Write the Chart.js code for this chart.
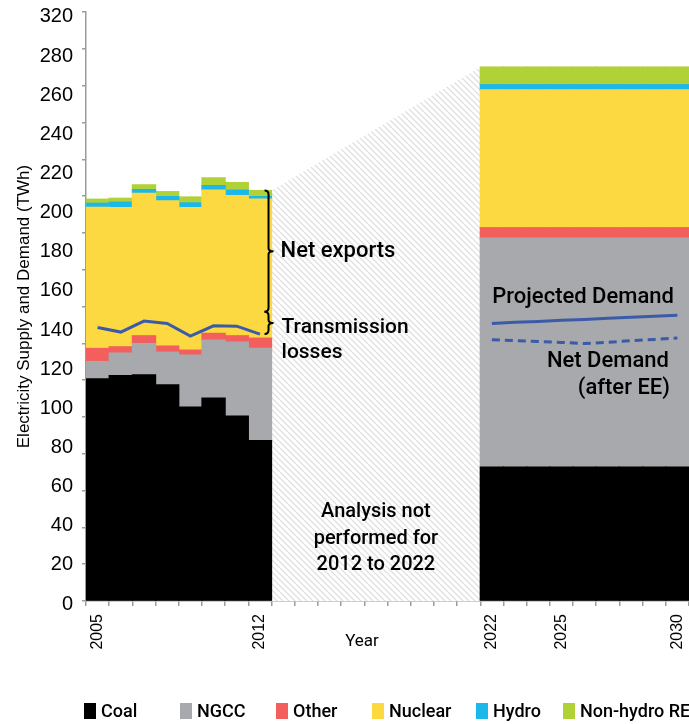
<!DOCTYPE html>
<html>
<head>
<meta charset="utf-8">
<title>Electricity Supply and Demand</title>
<script src="https://cdn.jsdelivr.net/npm/chart.js@4.4.1/dist/chart.umd.min.js"></script>
<style>
  html, body { margin: 0; padding: 0; background: #fff; }
  #wrap { width: 689px; height: 724px; }
</style>
</head>
<body>
<div id="wrap"><canvas id="supplyChart" width="689" height="724"></canvas></div>
<script>
// Electricity supply by source vs. demand, 2005-2012 and 2022-2030 (TWh)

const years = ['2005', '2006', '2007', '2008', '2009', '2010', '2011', '2012',
               '2013', '2014', '2015', '2016', '2017', '2018', '2019', '2020', '2021',
               '2022', '2023', '2024', '2025', '2026', '2027', '2028', '2029', '2030'];
const shownYears = ['2005', '2012', '2022', '2025', '2030'];
const yTickLabels = ['0', '20', '40', '60', '80', '100', '120', '140', '160',
                     '180', '200', '220', '240', '260', '280', '320'];

// historical supply, 2005-2012
const coalHist    = [120.7, 122.5, 122.9, 117.4, 105.4, 110.2, 100.5, 87.2];
const ngccHist    = [9.4, 12.2, 17.0, 17.8, 28.2, 31.5, 40.1, 50.0];
const otherHist   = [7.1, 3.4, 4.2, 3.3, 2.7, 3.7, 3.5, 5.6];
const nuclearHist = [76.7, 75.6, 77.4, 78.9, 77.4, 77.8, 76.1, 75.5];
const hydroHist   = [2.2, 3.0, 2.0, 2.3, 2.6, 2.5, 3.0, 1.4];
const reHist      = [2.2, 2.1, 2.6, 2.7, 3.2, 4.2, 4.1, 3.3];

// projected supply, 2022-2030
const coalProj    = [72.8, 72.8, 72.8, 72.8, 72.8, 72.8, 72.8, 72.8, 72.8];
const ngccProj    = [124.3, 124.3, 124.3, 124.3, 124.3, 124.3, 124.3, 124.3, 124.3];
const otherProj   = [5.7, 5.7, 5.7, 5.7, 5.7, 5.7, 5.7, 5.7, 5.7];
const nuclearProj = [74.9, 74.9, 74.9, 74.9, 74.9, 74.9, 74.9, 74.9, 74.9];
const hydroProj   = [2.8, 2.8, 2.8, 2.8, 2.8, 2.8, 2.8, 2.8, 2.8];
const reProj      = [9.6, 9.6, 9.6, 9.6, 9.6, 9.6, 9.6, 9.6, 9.6];

// demand
const demandHist    = [148.6, 146.1, 152.1, 150.8, 143.9, 149.5, 149.3, 145.0];
const demandProj    = [150.8, 151.4, 151.9, 152.5, 153.0, 153.6, 154.1, 154.7, 155.2];
const netDemandProj = [142.0, 141.5, 141.0, 140.5, 139.9, 140.6, 141.4, 142.1, 142.9];

// 2012 supply left after net exports (top of the transmission-loss bracket)
const afterExports2012 = 157.1;

const FONT_AXIS = '"Liberation Sans", Arial, sans-serif';
const FONT_NOTE = 'Roboto, "Liberation Sans", sans-serif';

const noYears = new Array(9).fill(null);
const span = (hist, proj) => hist.concat(noYears, proj);
const sum = arr => arr.reduce((a, b) => a + b, 0);

const last = a => a[a.length - 1];
const total2012 = sum([coalHist, ngccHist, otherHist, nuclearHist, hydroHist, reHist].map(last));
const total2022 = sum([coalProj, ngccProj, otherProj, nuclearProj, hydroProj, reProj].map(a => a[0]));

function hatchPattern() {
    const size = 6;
    const c = document.createElement('canvas');
    c.width = size; c.height = size;
    const g = c.getContext('2d');
    g.fillStyle = '#ffffff';
    g.fillRect(0, 0, size, size);
    g.strokeStyle = '#e0e0e0';
    g.lineWidth = 1.3;
    g.beginPath();
    g.moveTo(-1, -1); g.lineTo(size + 1, size + 1);
    g.moveTo(-size / 2 - 1, size / 2 - 1); g.lineTo(size / 2 + 1, size * 1.5 + 1);
    g.moveTo(size / 2 - 1, -size / 2 - 1); g.lineTo(size * 1.5 + 1, size / 2 + 1);
    g.stroke();
    return g.createPattern(c, 'repeat');
}

function bar(label, hist, proj, color) {
    return {
        type: 'bar', label, data: span(hist, proj),
        backgroundColor: color, borderWidth: 0, inflateAmount: 0.6,
        grouped: false, barPercentage: 1, categoryPercentage: 1,
        stack: 'supply', order: 2
    };
}

function curlyBrace(ctx, x, top, bottom) {
    const mid = (top + bottom) / 2;
    ctx.beginPath();
    ctx.moveTo(x - 4, top);
    ctx.quadraticCurveTo(x, top, x, top + 4);
    ctx.lineTo(x, mid - 3);
    ctx.quadraticCurveTo(x, mid, x + 5, mid);
    ctx.quadraticCurveTo(x, mid, x, mid + 3);
    ctx.lineTo(x, bottom - 4);
    ctx.quadraticCurveTo(x, bottom, x - 4, bottom);
    ctx.stroke();
}

// brackets and notes written over the plot
const notes = {
    id: 'notes',
    afterDatasetsDraw(chart) {
        const { ctx, chartArea, scales: { xh, y } } = chart;
        ctx.save();
        ctx.strokeStyle = '#000';
        ctx.lineWidth = 2;
        const bx = xh.getPixelForValue(2012.5) - 3;
        const yTop = y.getPixelForValue(total2012);
        const yMid = y.getPixelForValue(afterExports2012);
        const yDem = y.getPixelForValue(last(demandHist));
        curlyBrace(ctx, bx, yTop, yMid);
        curlyBrace(ctx, bx, yMid, yDem);

        ctx.fillStyle = '#000';
        ctx.textBaseline = 'middle';
        ctx.textAlign = 'left';
        ctx.font = '500 22px ' + FONT_NOTE;
        ctx.fillText('Net exports', bx + 12, (yTop + yMid) / 2);
        ctx.font = '500 21px ' + FONT_NOTE;
        ctx.fillText('Transmission', bx + 13, (yMid + yDem) / 2 + 5);
        ctx.fillText('losses', bx + 13, (yMid + yDem) / 2 + 30);

        ctx.font = '500 22px ' + FONT_NOTE;
        ctx.textAlign = 'right';
        const xr = xh.getPixelForValue(2029.85);
        ctx.fillText('Projected Demand', xr, y.getPixelForValue(last(demandProj)) - 18);
        const yNet = y.getPixelForValue(last(netDemandProj));
        ctx.fillText('Net Demand', xr - 5, yNet + 24);
        ctx.fillText('(after EE)', xr - 4, yNet + 51);

        ctx.textAlign = 'center';
        ctx.font = '500 20px ' + FONT_NOTE;
        const xc = xh.getPixelForValue(2017);
        ctx.fillText('Analysis not', xc, chartArea.bottom - 89);
        ctx.fillText('performed for', xc, chartArea.bottom - 62);
        ctx.fillText('2012 to 2022', xc, chartArea.bottom - 36);

        ctx.font = '17px ' + FONT_NOTE;
        ctx.fillText('Year', xh.getPixelForValue(2016.4), chartArea.bottom + 41);
        ctx.restore();
    }
};

// legend row along the bottom edge
const legendX = [84, 180, 276, 372, 476, 563];
const sourceLegend = {
    id: 'sourceLegend',
    afterDraw(chart) {
        const { ctx } = chart;
        const items = chart.data.datasets.filter(d => d.type === 'bar');
        ctx.save();
        ctx.font = '500 18px ' + FONT_NOTE;
        ctx.textBaseline = 'middle';
        ctx.textAlign = 'left';
        items.forEach((d, i) => {
            const x = legendX[i];
            const cy = 711;
            ctx.fillStyle = d.backgroundColor;
            ctx.fillRect(x, cy - 8, 12, 16);
            ctx.fillStyle = '#000';
            ctx.fillText(d.label, x + 17, cy + 1);
        });
        ctx.restore();
    }
};

const ctx = document.getElementById('supplyChart').getContext('2d');

new Chart(ctx, {
    type: 'bar',
    data: {
        labels: years,
        datasets: [
            {
                type: 'line', label: 'Projected Demand', data: span(demandHist, demandProj),
                borderColor: '#3b5ba9', borderWidth: 3, pointRadius: 0, tension: 0,
                spanGaps: false, fill: false, stack: 'demand', order: 0
            },
            {
                type: 'line', label: 'Net Demand (after EE)', data: span(new Array(8).fill(null), netDemandProj),
                borderColor: '#3b5ba9', borderWidth: 3, borderDash: [8, 5], pointRadius: 0, tension: 0,
                fill: false, stack: 'netDemand', order: 0
            },
            bar('Coal', coalHist, coalProj, '#000000'),
            bar('NGCC', ngccHist, ngccProj, '#a7a9ac'),
            bar('Other', otherHist, otherProj, '#f25f5c'),
            bar('Nuclear', nuclearHist, nuclearProj, '#fdd941'),
            bar('Hydro', hydroHist, hydroProj, '#1db8ea'),
            bar('Non-hydro RE', reHist, reProj, '#b1d236'),
            {
                type: 'line', label: 'not analysed', xAxisID: 'xh',
                data: [{ x: 2012.5, y: total2012 }, { x: 2021.5, y: total2022 }],
                borderWidth: 0, pointRadius: 0, tension: 0,
                fill: 'origin', backgroundColor: hatchPattern(),
                stack: 'gap', order: 3
            }
        ]
    },
    options: {
        responsive: false,
        animation: false,
        devicePixelRatio: 1,
        layout: { padding: { top: 12, right: 0, bottom: 63, left: 0 } },
        plugins: {
            legend: { display: false },
            tooltip: { enabled: false }
        },
        scales: {
            x: {
                type: 'category',
                stacked: true,
                offset: true,
                grid: { offset: true, drawOnChartArea: false, tickLength: 5, color: '#9b9b9b', lineWidth: 1.5 },
                border: { color: '#9b9b9b', width: 1.5 },
                ticks: {
                    autoSkip: false, maxRotation: 90, minRotation: 90, padding: 8,
                    color: '#000', font: { family: FONT_AXIS, size: 16 },
                    callback(value) {
                        const lab = this.getLabelForValue(value);
                        return shownYears.includes(lab) ? lab : '';
                    }
                },
                afterFit(scale) {
                    scale.height = 60;
                    scale.paddingLeft = 0;
                    scale.paddingRight = 0;
                }
            },
            // continuous year axis spanning the same width, used for the hatched gap
            xh: { type: 'linear', display: false, offset: false, min: 2004.5, max: 2030.5 },
            y: {
                position: 'left', weight: 0,
                stacked: true, min: 0, max: 320,
                ticks: { stepSize: 20, display: false },
                grid: { drawOnChartArea: false, tickLength: 4, color: '#9b9b9b', lineWidth: 1.5 },
                border: { color: '#9b9b9b', width: 1.5 },
                afterFit(scale) { scale.width = 5; }
            },
            yl: {
                position: 'left', weight: 1,
                min: 0, max: 15.05,
                grid: { display: false, drawTicks: false },
                border: { display: false },
                ticks: {
                    stepSize: 1, includeBounds: false, padding: 8, labelOffset: 3,
                    color: '#000', font: { family: FONT_AXIS, size: 20 },
                    callback: v => yTickLabels[v]
                },
                title: {
                    display: true, text: 'Electricity Supply and Demand (TWh)',
                    color: '#000', font: { family: FONT_AXIS, size: 17 },
                    padding: { top: 14, bottom: 0 }
                },
                afterFit(scale) {
                    scale.width = 81;
                    scale.paddingTop = 0;
                    scale.paddingBottom = 0;
                }
            }
        }
    },
    plugins: [notes, sourceLegend]
});
</script>
</body>
</html>
